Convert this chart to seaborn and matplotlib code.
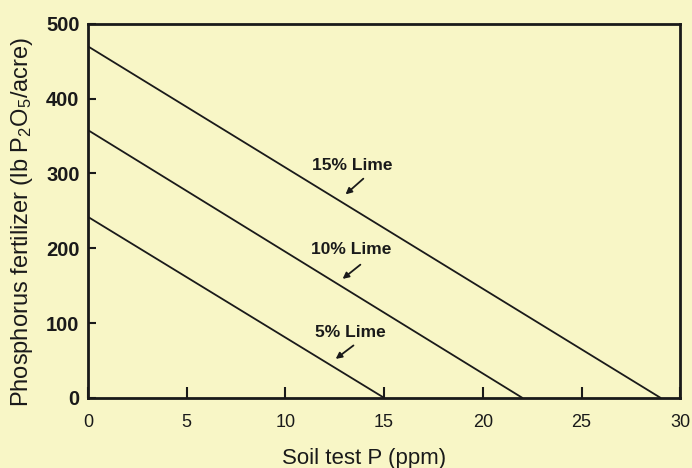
import matplotlib
matplotlib.use("Agg")
import matplotlib.pyplot as plt
import seaborn as sns
import pandas as pd

# Data
series = ["15% Lime", "10% Lime", "5% Lime"]
x_start = [0, 0, 0]
x_end = [29, 22, 15]
y_start = [470, 358, 242]
y_end = [0, 0, 0]

# label positions (data coordinates) and arrows
label_xy = [(13.4, 310), (13.35, 198), (13.3, 87)]
arrow_from = [(13.95, 293), (13.8, 178), (13.45, 70)]
arrow_to = [(13.05, 272), (12.9, 159), (12.55, 52)]

x_ticks = [0, 5, 10, 15, 20, 25, 30]
y_ticks = [0, 100, 200, 300, 400, 500]

rows = []
for s, xs, xe, ys, ye in zip(series, x_start, x_end, y_start, y_end):
    rows.append({"series": s, "x": xs, "y": ys})
    rows.append({"series": s, "x": xe, "y": ye})
df = pd.DataFrame(rows)

sns.set_theme(style="ticks")
bg = "#f8f6c6"
ink = "#1a1a1a"
plt.rcParams["font.family"] = ["Liberation Sans", "DejaVu Sans"]
plt.rcParams["mathtext.default"] = "regular"

fig = plt.figure(figsize=(6.92, 4.68), dpi=100, facecolor=bg)
ax = fig.add_axes([0.127, 0.150, 0.856, 0.799])
ax.set_facecolor(bg)

sns.lineplot(data=df, x="x", y="y", units="series", estimator=None,
             color=ink, linewidth=1.3, ax=ax, legend=False)

for s, (lx, ly), (ax0, ay0), (ax1, ay1) in zip(series, label_xy, arrow_from, arrow_to):
    ax.text(lx, ly, s, ha="center", va="center", fontsize=12.5,
            fontweight="bold", color=ink)
    ax.annotate("", xy=(ax1, ay1), xytext=(ax0, ay0),
                arrowprops=dict(arrowstyle="-|>", color=ink, lw=1.3,
                                mutation_scale=9, shrinkA=0, shrinkB=0))

ax.set_xlim(0, 30)
ax.set_ylim(0, 500)
ax.set_xticks(x_ticks)
ax.set_yticks(y_ticks)
ax.set_xticklabels([str(t) for t in x_ticks], fontsize=13)
ax.set_yticklabels([str(t) for t in y_ticks], fontsize=14.5, fontweight="bold")
ax.tick_params(axis="x", direction="in", length=8, width=1.5, pad=12, colors=ink)
ax.tick_params(axis="y", direction="in", length=6, width=1.5, pad=6, colors=ink)
for sp in ax.spines.values():
    sp.set_linewidth(2.0)
    sp.set_color(ink)
    sp.set_visible(True)

ax.set_xlabel("Soil test P (ppm)", fontsize=16, color=ink)
ax.xaxis.label.set_va("baseline")
ax.xaxis.set_label_coords(0.466, -0.177)
ax.set_ylabel("Phosphorus fertilizer (lb P$_2$O$_5$/acre)", fontsize=17, color=ink)
ax.yaxis.label.set_va("center")
ax.yaxis.set_label_coords(-0.111, 0.469)

fig.savefig("out.png", dpi=100, facecolor=bg)
